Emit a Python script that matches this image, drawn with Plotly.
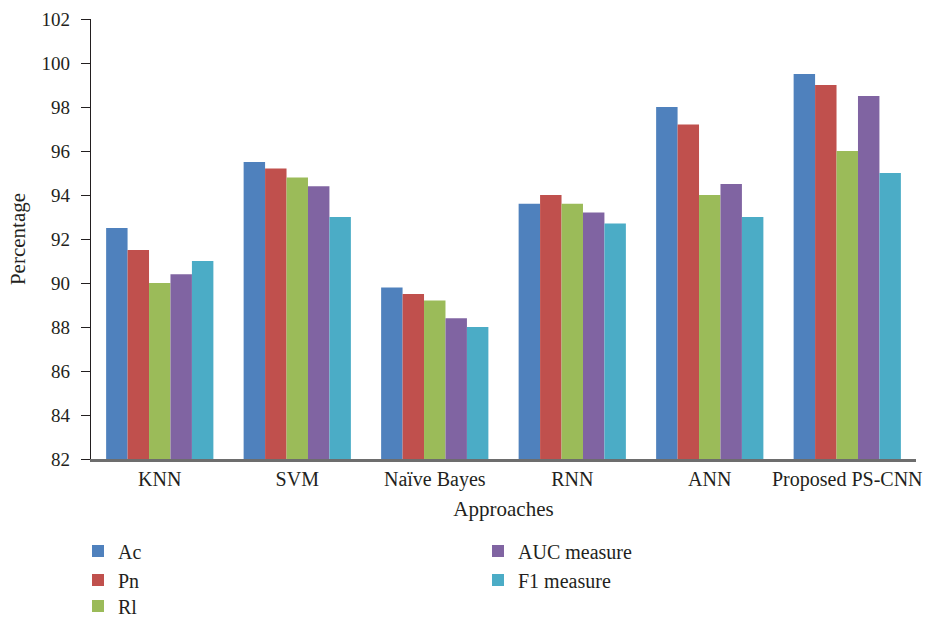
import plotly.graph_objects as go

approaches = ["KNN", "SVM", "Naïve Bayes", "RNN", "ANN", "Proposed PS-CNN"]
ac = [92.5, 95.5, 89.8, 93.6, 98.0, 99.5]
pn = [91.5, 95.2, 89.5, 94.0, 97.2, 99.0]
rl = [90.0, 94.8, 89.2, 93.6, 94.0, 96.0]
auc = [90.4, 94.4, 88.4, 93.2, 94.5, 98.5]
f1 = [91.0, 93.0, 88.0, 92.7, 93.0, 95.0]

# name, values, colour, legend slot (left px, row centre px)
series = [
    ("Ac", ac, "#4F81BD", 78, 551),
    ("Pn", pn, "#C0504D", 78, 580),
    ("Rl", rl, "#9BBB59", 78, 606),
    ("AUC measure", auc, "#8064A2", 478, 551),
    ("F1 measure", f1, "#4BACC6", 478, 580),
]

W, H = 927, 618
ML, MR, MT, MB = 91, 11, 19, 159
PW, PH = W - ML - MR, H - MT - MB
FONT = "Liberation Serif, Times New Roman, serif"
INK = "#231f20"

fig = go.Figure()
legends = {}
for i, (name, vals, color, lx, ly) in enumerate(series):
    key = "legend" if i == 0 else f"legend{i + 1}"
    fig.add_trace(go.Bar(
        x=approaches, y=vals, name=name, marker_color=color,
        marker_line_width=0, legend=key,
    ))
    legends[key] = dict(
        orientation="v", xref="paper", yref="paper",
        x=(lx - ML) / PW, y=(H - MB - ly) / PH,
        xanchor="left", yanchor="middle",
        bgcolor="rgba(0,0,0,0)", font=dict(family=FONT, size=20, color=INK),
        itemwidth=30,
    )

fig.update_layout(
    width=W, height=H,
    margin=dict(l=ML, r=MR, t=MT, b=MB, autoexpand=False),
    paper_bgcolor="white", plot_bgcolor="white",
    font=dict(family=FONT, size=20, color=INK),
    barmode="group", bargap=0.22, bargroupgap=0,
    showlegend=True,
    **legends,
    xaxis=dict(
        title=dict(text="Approaches", font=dict(family=FONT, size=21), standoff=12),
        showline=True, linecolor="#6d6d6d", linewidth=2.5,
        ticks="", showgrid=False, tickangle=0, automargin=False,
        tickfont=dict(family=FONT, size=20),
    ),
    yaxis=dict(
        title=dict(text="Percentage", font=dict(family=FONT, size=21), standoff=10),
        range=[82, 102], dtick=2, tick0=82, automargin=False,
        showline=True, linecolor=INK, linewidth=1.2,
        ticks="outside", ticklen=9, tickcolor=INK, ticklabelstandoff=7,
        showgrid=False, zeroline=False,
        tickfont=dict(family=FONT, size=19),
    ),
)

fig.write_html("out.html")
